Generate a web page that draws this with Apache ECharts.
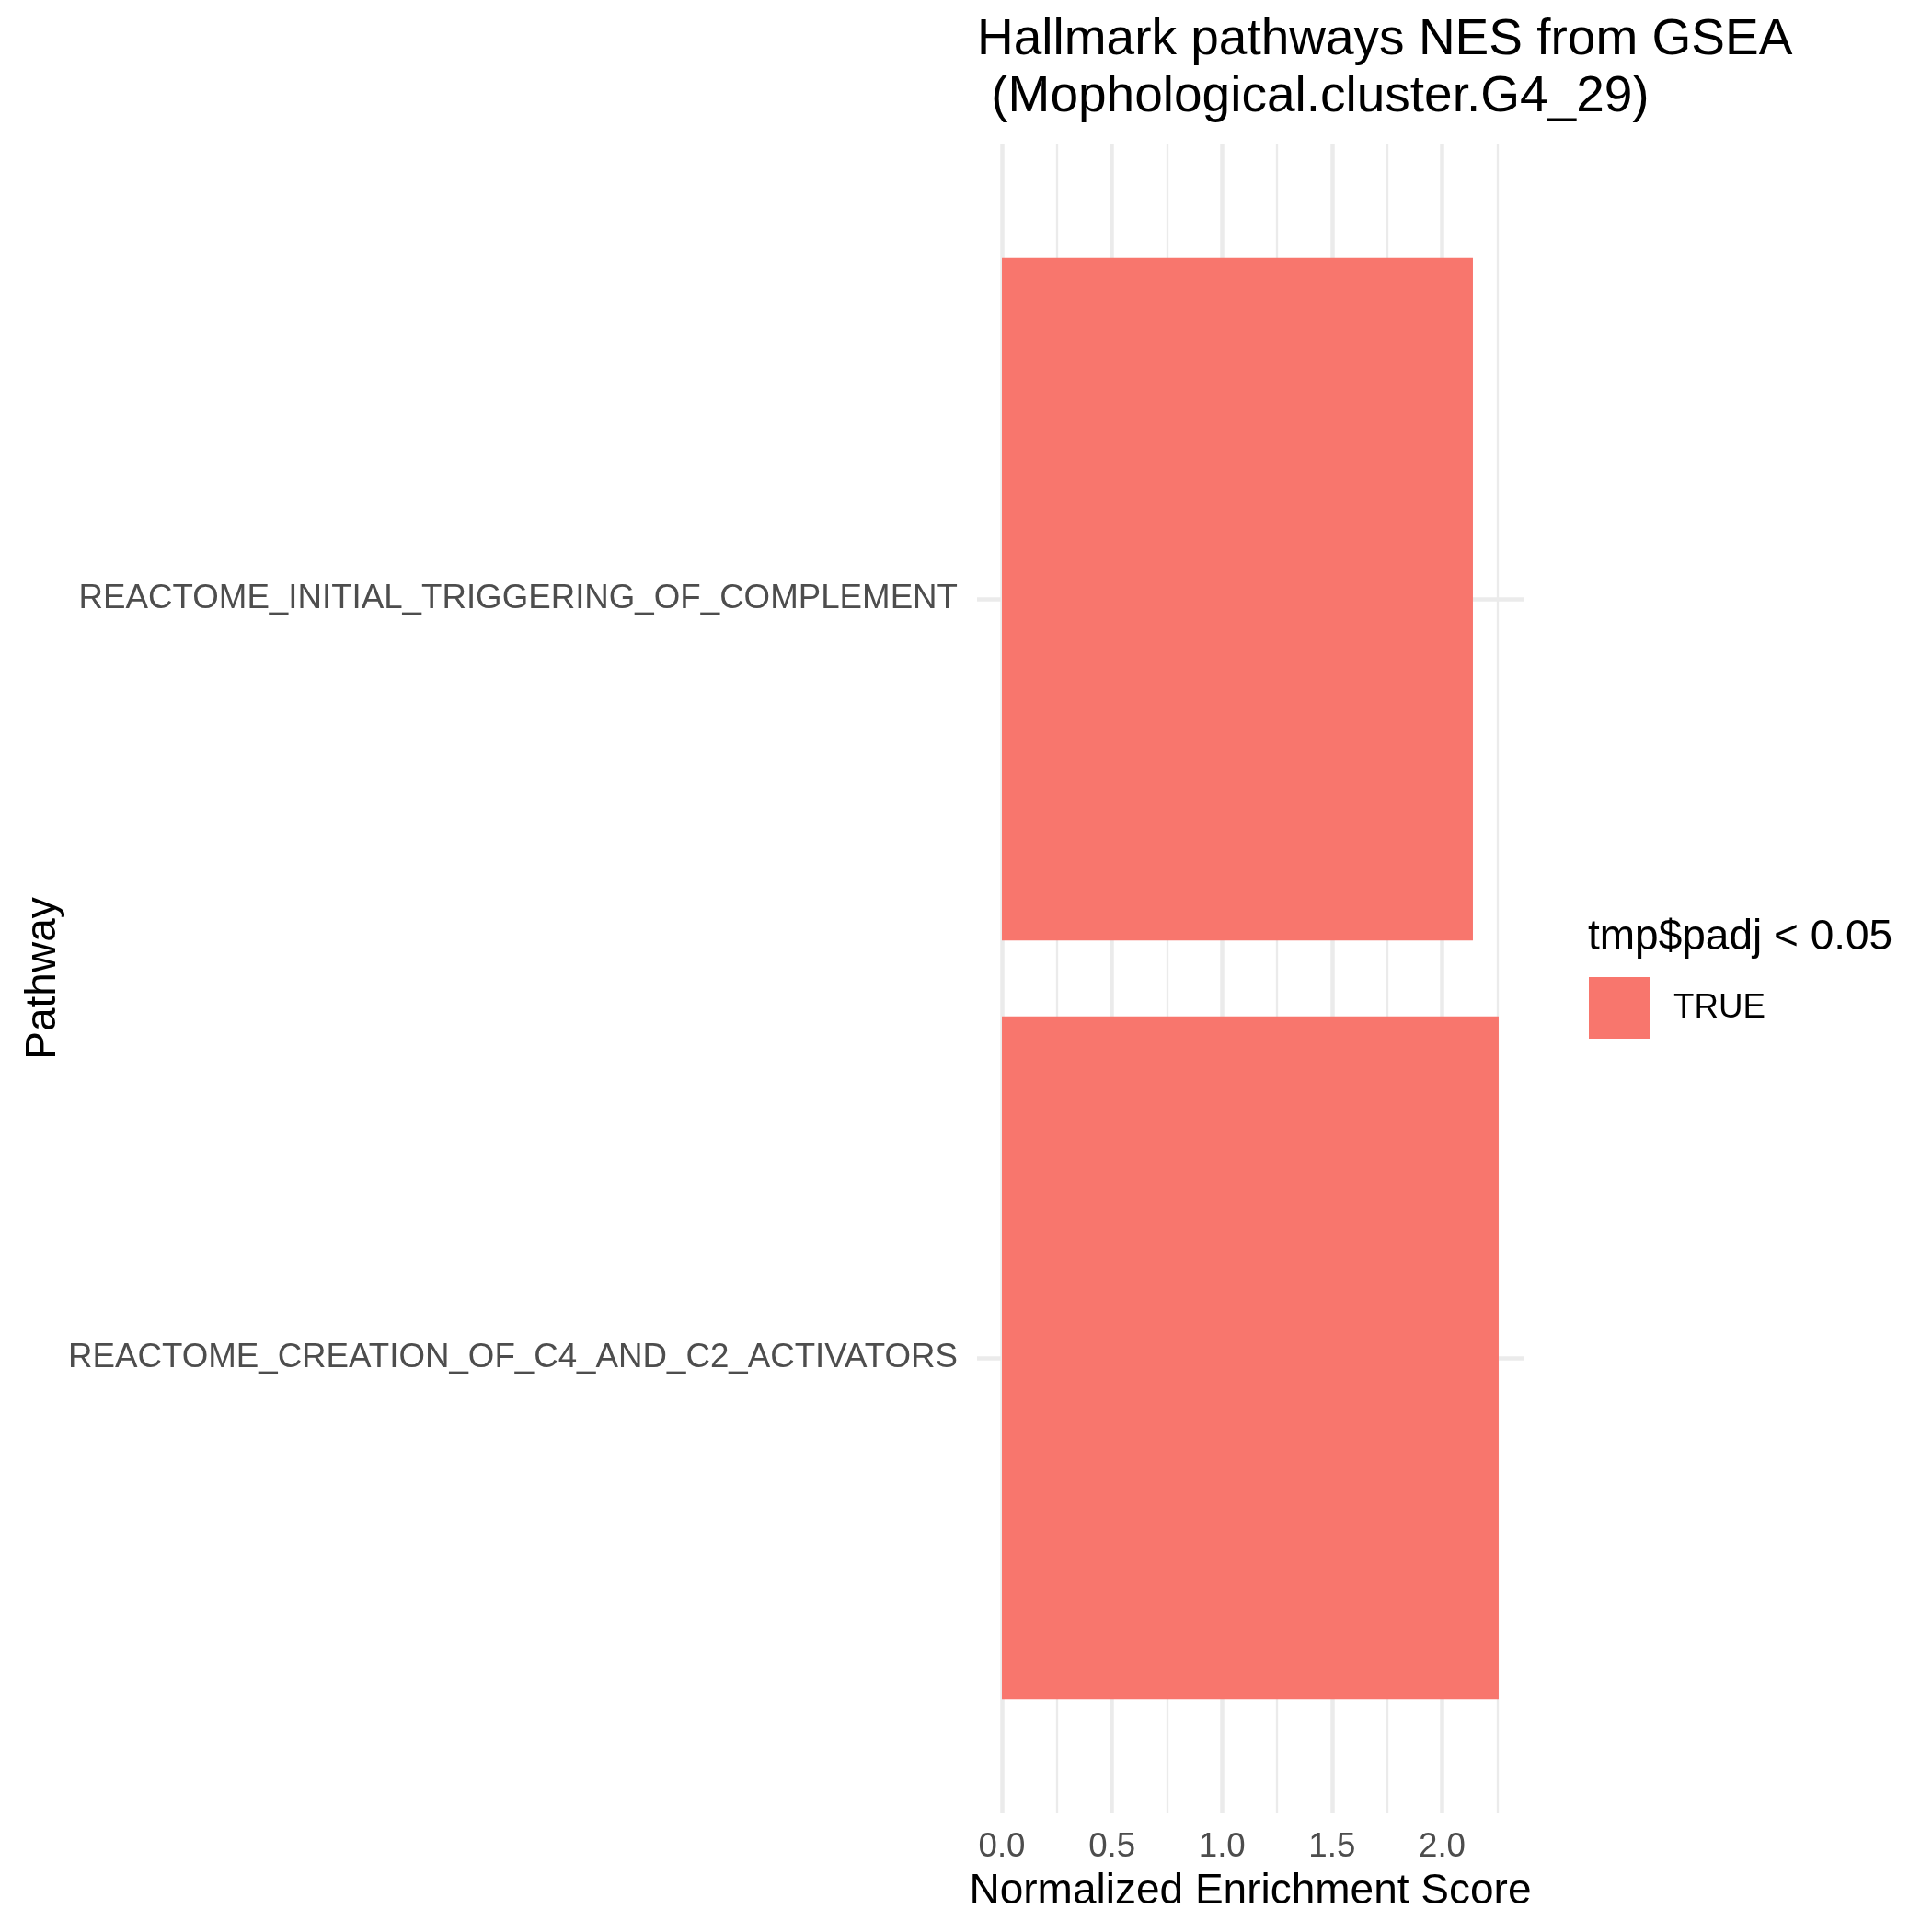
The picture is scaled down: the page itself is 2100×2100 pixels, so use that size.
<!DOCTYPE html>
<html>
<head>
<meta charset="utf-8">
<script src="https://cdn.jsdelivr.net/npm/echarts@6/dist/echarts.min.js"></script>
<style>
html,body{margin:0;padding:0;background:#fff;}
#chart{width:2100px;height:2100px;}
</style>
</head>
<body>
<div id="chart"></div>
<script>
// ---- data ----
const categories = [
  "REACTOME_CREATION_OF_C4_AND_C2_ACTIVATORS",
  "REACTOME_INITIAL_TRIGGERING_OF_COMPLEMENT"
];
const nesValues = [2.257, 2.140];
const seriesName = "TRUE";
const xTickLabels = [0, 0.5, 1, 1.5, 2];
const majorGridValues = [0, 0.5, 1, 1.5, 2];
const minorGridValues = [0.25, 0.75, 1.25, 1.75, 2.25];
const categoryPositions = [1, 2];

// ---- layout ----
const FONT = "Liberation Sans";
const xMin = -0.1129, xMax = 2.370;
const panel = {left: 1062, right: 2100 - 1656, top: 156, bottom: 2100 - 1971};
// band grid so category centers match ggplot discrete expansion (0.6 each side)
const bandGrid = {left: 1062, right: 2100 - 1656, top: 238.5, bottom: 2100 - 1888.5};

const gridLineData = []
  .concat(majorGridValues.map(v => ({xAxis: v, lineStyle: {width: 4.5, color: '#EBEBEB', type: 'solid'}})))
  .concat(minorGridValues.map(v => ({xAxis: v, lineStyle: {width: 2.3, color: '#EBEBEB', type: 'solid'}})))
  .concat(categoryPositions.map(v => ({yAxis: v, lineStyle: {width: 4.5, color: '#EBEBEB', type: 'solid'}})));

const chart = echarts.init(document.getElementById('chart'), null, {renderer: 'canvas'});
chart.setOption({
  backgroundColor: '#ffffff',
  animation: false,
  title: [
    {
      text: "Hallmark pathways NES from GSEA\n (Mophological.cluster.G4_29)",
      left: 1062, top: 13, padding: 0,
      textStyle: {fontFamily: FONT, fontSize: 55, fontWeight: 'normal', color: '#000', lineHeight: 62}
    },
    {
      text: "tmp$padj < 0.05",
      left: 1726, top: 996, padding: 0,
      textStyle: {fontFamily: FONT, fontSize: 46, fontWeight: 'normal', color: '#000', lineHeight: 46}
    }
  ],
  legend: {
    data: [{name: seriesName, icon: 'rect'}],
    left: 1727, top: 1062, padding: 0,
    itemWidth: 66, itemHeight: 67,
    textStyle: {fontFamily: FONT, fontSize: 36.7, color: '#000', padding: [2, 0, 0, 21]},
    selectedMode: false
  },
  grid: [
    Object.assign({containLabel: false}, bandGrid),
    Object.assign({containLabel: false}, panel)
  ],
  xAxis: [
    {
      gridIndex: 0, type: 'value', min: xMin, max: xMax,
      show: false, splitLine: {show: false}
    },
    {
      gridIndex: 1, type: 'value', min: xMin, max: xMax,
      axisLine: {show: false}, axisTick: {show: false}, splitLine: {show: false},
      axisLabel: {
        customValues: xTickLabels,
        formatter: v => Number(v).toFixed(1),
        margin: 18,
        fontFamily: FONT, fontSize: 36.7, color: '#4D4D4D'
      },
      name: "Normalized Enrichment Score",
      nameLocation: 'middle', nameGap: 62,
      nameTextStyle: {fontFamily: FONT, fontSize: 46, color: '#000'}
    }
  ],
  yAxis: [
    {
      gridIndex: 0, type: 'category', data: categories,
      axisLine: {show: false}, axisTick: {show: false}, splitLine: {show: false},
      axisLabel: {margin: 21, fontFamily: FONT, fontSize: 36.7, color: '#4D4D4D'},
      name: "Pathway", nameLocation: 'middle', nameRotate: 90, nameGap: 990,
      nameTextStyle: {fontFamily: FONT, fontSize: 46, color: '#000'}
    },
    {
      gridIndex: 1, type: 'value', min: 0.4, max: 2.6, show: false, splitLine: {show: false}
    }
  ],
  series: [
    {
      type: 'line', xAxisIndex: 1, yAxisIndex: 1, z: 0,
      data: [], silent: true, showSymbol: false,
      markLine: {
        silent: true, z: 0, symbol: ['none', 'none'],
        label: {show: false}, emphasis: {disabled: true},
        data: gridLineData
      }
    },
    {
      name: seriesName, type: 'bar', xAxisIndex: 0, yAxisIndex: 0, z: 3,
      data: nesValues, barWidth: '90%',
      itemStyle: {color: '#F8766D'},
      emphasis: {disabled: true}
    }
  ]
});
</script>
</body>
</html>
